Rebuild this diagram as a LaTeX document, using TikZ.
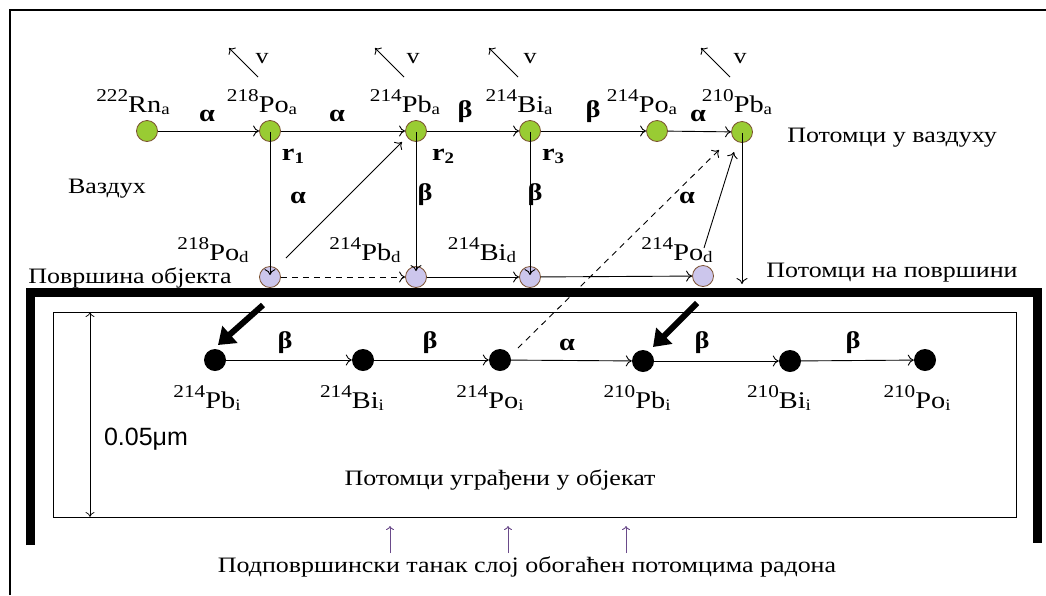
\documentclass[tikz,border=0pt]{standalone}
\usepackage{fontspec}
\setmainfont{Liberation Serif}[FakeStretch=1.18]
\newfontfamily\arialf{Liberation Sans}
\usetikzlibrary{arrows.meta}
\definecolor{airgreen}{HTML}{99CC33}
\definecolor{surflav}{HTML}{CCC6EC}
\definecolor{rimbrown}{HTML}{7A5030}
\definecolor{uparrow}{HTML}{6A4A8A}
\newcommand\nuc[3]{\raisebox{11pt}{\fontsize{18}{18}\selectfont #1}#2\raisebox{-2pt}{\fontsize{16}{16}\selectfont #3}}
\begin{document}
\begin{tikzpicture}[x=1pt,y=-1pt,
  lbl/.style={font=\fontsize{24}{26}\selectfont, inner sep=0pt, anchor=base},
  greek/.style={font=\fontsize{24}{26}\selectfont\bfseries, inner sep=0pt, anchor=base},
  txt/.style={font=\fontsize{22}{24}\selectfont, inner sep=0pt, anchor=base},
  airnode/.style={circle, draw=rimbrown, fill=airgreen, minimum size=21pt, inner sep=0pt, line width=0.8pt},
  surfnode/.style={circle, draw=rimbrown, fill=surflav, minimum size=21pt, inner sep=0pt, line width=0.8pt},
  imnode/.style={circle, fill=black, minimum size=22pt, inner sep=0pt},
  conn/.style={-{To[length=6pt,width=11pt]}, line width=0.9pt},
  dconn/.style={conn, dash pattern=on 6pt off 5pt},
  vel/.style={-{To[length=5pt,width=10pt]}, line width=0.9pt},
  fat/.style={-{Triangle[length=16pt,width=22pt]}, line width=6pt},
]
\useasboundingbox (0,0) rectangle (1046,595);
% outer frame (clipped)
\draw[line width=1.6pt] (10,595) -- (10,10) -- (1046,10);
% thick bracket
\draw[line width=9pt] (30,545) -- (30,292) -- (1037,292) -- (1037,543);
% inner rectangle
\draw[line width=1pt] (53,312) rectangle (1016,517);
% dimension
\coordinate (dimT) at (90,312);
\coordinate (dimB) at (90,517);
\draw[{To[length=5pt,width=9pt]}-{To[length=5pt,width=9pt]}, line width=0.7pt] (dimT) -- (dimB);
\node[font=\arialf\fontsize{25}{27}\selectfont, inner sep=0pt, anchor=base] (dimlbl) at (146,445) {0.05μm};

% air nodes
\node[airnode] (rn) at (147,131) {};
\node[airnode] (po218a) at (270,131) {};
\node[airnode] (pb214a) at (416,131) {};
\node[airnode] (bi214a) at (530,131) {};
\node[airnode] (po214a) at (657,131) {};
\node[airnode] (pb210a) at (742,132) {};
% surface nodes
\node[surfnode] (po218d) at (270,277) {};
\node[surfnode] (pb214d) at (416,277) {};
\node[surfnode] (bi214d) at (530,277) {};
\node[surfnode] (po214d) at (703,276) {};
% implanted nodes
\node[imnode] (pb214i) at (215,360) {};
\node[imnode] (bi214i) at (363,360) {};
\node[imnode] (po214i) at (500,360) {};
\node[imnode] (pb210i) at (643,361) {};
\node[imnode] (bi210i) at (790,361) {};
\node[imnode] (po210i) at (925,360) {};

% air labels
\node[lbl] (lrn) at (133,112) {\nuc{222}{Rn}{a}};
\node[lbl] (lpo218a) at (262,112) {\nuc{218}{Po}{a}};
\node[lbl] (lpb214a) at (405,112) {\nuc{214}{Pb}{a}};
\node[lbl] (lbi214a) at (519,112) {\nuc{214}{Bi}{a}};
\node[lbl] (lpo214a) at (642,112) {\nuc{214}{Po}{a}};
\node[lbl] (lpb210a) at (737,112) {\nuc{210}{Pb}{a}};
% surface labels
\node[lbl] (lpo218d) at (213,260) {\nuc{218}{Po}{d}};
\node[lbl] (lpb214d) at (365,260) {\nuc{214}{Pb}{d}};
\node[lbl] (lbi214d) at (482,260) {\nuc{214}{Bi}{d}};
\node[lbl] (lpo214d) at (677,260) {\nuc{214}{Po}{d}};
% implanted labels
\node[lbl] (lpb214i) at (207,408) {\nuc{214}{Pb}{i}};
\node[lbl] (lbi214i) at (352,408) {\nuc{214}{Bi}{i}};
\node[lbl] (lpo214i) at (490,408) {\nuc{214}{Po}{i}};
\node[lbl] (lpb210i) at (637,408) {\nuc{210}{Pb}{i}};
\node[lbl] (lbi210i) at (779,408) {\nuc{210}{Bi}{i}};
\node[lbl] (lpo210i) at (917,408) {\nuc{210}{Po}{i}};

% velocity arrows
\foreach \n/\x/\vx in {a/270/262, b/416/413, c/530/530, d/742/740}{
  \coordinate (vs\n) at (\x-12,77);
  \coordinate (ve\n) at (\x-41,48);
  \draw[vel] (vs\n) -- (ve\n);
  \node[txt] (vl\n) at (\vx,63) {v};
}

% horizontal air arrows
\draw[conn] (rn) -- (po218a);
\draw[conn] (po218a) -- (pb214a);
\draw[conn] (pb214a) -- (bi214a);
\draw[conn] (bi214a) -- (po214a);
\draw[conn] (po214a) -- (pb210a);
\node[greek] at (207,121) {α};
\node[greek] at (337,121) {α};
\node[greek] at (465,117) {β};
\node[greek] at (593,117) {β};
\node[greek] at (698,121) {α};

% r labels
\node[greek] at (293,160) {r\raisebox{-3pt}{\fontsize{16}{16}\selectfont 1}};
\node[greek] at (443,160) {r\raisebox{-3pt}{\fontsize{16}{16}\selectfont 2}};
\node[greek] at (553,160) {r\raisebox{-3pt}{\fontsize{16}{16}\selectfont 3}};

% vertical drops
\draw[conn] ([yshift=10pt]po218a.south) -- ([yshift=-9pt]po218d.north);
\draw[conn] ([yshift=10pt]pb214a.south) -- ([yshift=-5pt]pb214d.north);
\draw[conn] ([yshift=10pt]bi214a.south) -- ([yshift=-9pt]bi214d.north);
\coordinate (pbdrop) at (742,284);
\draw[conn] ([yshift=10pt]pb210a.south) -- (pbdrop);
\node[greek] at (298,203) {α};
\node[greek] at (425,200) {β};
\node[greek] at (535,200) {β};
\node[greek] at (687,203) {α};

% diagonals
\draw[conn] ([shift={(16,-19)}]po218d.center) -- ([shift={(-14,11)}]pb214a.center);
\draw[conn] ([shift={(1,-28)}]po214d.center) -- ([shift={(-8,20)}]pb210a.center);
\draw[dconn] ([shift={(18,-12)}]po214i.center) -- ([shift={(-23,18)}]pb210a.center);

% surface arrows
\draw[dconn] (po218d) -- (pb214d);
\draw[conn] (pb214d) -- (bi214d);
\draw[conn] (bi214d) -- (po214d);

% implantation fat arrows
\coordinate (f1s) at (263,305);
\coordinate (f2s) at (697,303);
\draw[fat] (f1s) -- ([shift={(3,-15)}]pb214i.center);
\draw[fat] (f2s) -- ([shift={(10,-14)}]pb210i.center);

% implanted arrows
\draw[conn] (pb214i) -- (bi214i);
\draw[conn] (bi214i) -- (po214i);
\draw[conn] (po214i) -- (pb210i);
\draw[conn] (pb210i) -- (bi210i);
\draw[conn] (bi210i) -- (po210i);
\node[greek] at (285,348) {β};
\node[greek] at (430,348) {β};
\node[greek] at (567,350) {α};
\node[greek] at (702,348) {β};
\node[greek] at (853,348) {β};

% text labels
\node[txt] (air) at (107,193) {Ваздух};
\node[txt] (surf) at (130,283) {Површина објекта};
\node[txt] (inair) at (892,142) {Потомци у ваздуху};
\node[txt] (onsurf) at (892,277) {Потомци на површини};
\node[txt] (embed) at (500,485) {Потомци уграђени у објекат};
\node[txt] (sub) at (527,572) {Подповршински танак слој обогаћен потомцима радона};

% small up arrows
\foreach \n/\x in {a/390,b/508,c/626}{
  \coordinate (us\n) at (\x,553);
  \coordinate (ue\n) at (\x,526);
  \draw[-{To[length=4pt,width=8pt]}, uparrow, line width=0.9pt] (us\n) -- (ue\n);
}
\end{tikzpicture}
\end{document}
